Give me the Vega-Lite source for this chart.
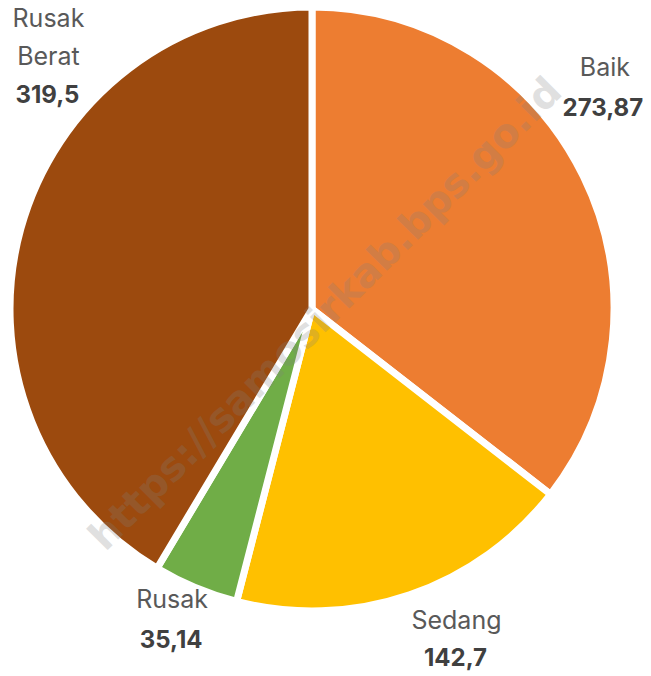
{
  "$schema": "https://vega.github.io/schema/vega-lite/v6.json",
  "width": 624,
  "height": 618,
  "autosize": {"type": "none"},
  "padding": {"left": 0, "top": 0, "right": 27, "bottom": 58},
  "background": "white",
  "config": {
    "view": {"stroke": null},
    "locale": {"number": {"decimal": ",", "thousands": ".", "grouping": [3], "currency": ["Rp", ""]}}
  },
  "data": {
    "values": [
      {"kondisi": "Baik", "panjang": 273.87, "urutan": 1},
      {"kondisi": "Sedang", "panjang": 142.7, "urutan": 2},
      {"kondisi": "Rusak", "panjang": 35.14, "urutan": 3},
      {"kondisi": "Rusak Berat", "panjang": 319.5, "urutan": 4}
    ]
  },
  "encoding": {
    "theta": {"field": "panjang", "type": "quantitative", "stack": true},
    "order": {"field": "urutan", "type": "quantitative", "sort": "ascending"}
  },
  "layer": [
    {
      "mark": {"type": "arc", "outerRadius": 302, "stroke": "white", "strokeWidth": 7},
      "encoding": {
        "color": {
          "field": "kondisi", "type": "nominal", "legend": null,
          "scale": {"domain": ["Baik", "Sedang", "Rusak", "Rusak Berat"], "range": ["#ED7D31", "#FFC000", "#70AD47", "#9C4A0E"]}
        }
      }
    },
    {
      "mark": {"type": "text", "radius": 0, "dx": 6, "dy": 14, "angle": 315, "text": "https://samosirkab.bps.go.id", "font": "DejaVu Sans", "fontWeight": "bold", "fontSize": 40, "fill": "#808080", "align": "center", "baseline": "middle"},
      "encoding": {"opacity": {"condition": {"test": "datum.kondisi === 'Baik'", "value": 0.24}, "value": 0}}
    },
    {
      "mark": {"type": "text", "radius": 345, "dx": -17, "dy": -89, "font": "Inter", "fontSize": 25, "fill": "#595959", "align": "center", "baseline": "middle"},
      "encoding": {"text": {"condition": {"test": "datum.kondisi === 'Baik'", "field": "kondisi", "type": "nominal"}, "value": ""}}
    },
    {
      "mark": {"type": "text", "radius": 345, "dx": 33, "dy": -14, "font": "Inter", "fontSize": 25, "fill": "#595959", "align": "center", "baseline": "middle"},
      "encoding": {"text": {"condition": {"test": "datum.kondisi === 'Sedang'", "field": "kondisi", "type": "nominal"}, "value": ""}}
    },
    {
      "mark": {"type": "text", "radius": 345, "dx": -7, "dy": -27, "font": "Inter", "fontSize": 25, "fill": "#595959", "align": "center", "baseline": "middle"},
      "encoding": {"text": {"condition": {"test": "datum.kondisi === 'Rusak'", "field": "kondisi", "type": "nominal"}, "value": ""}}
    },
    {
      "mark": {"type": "text", "radius": 345, "dx": 69, "dy": -198, "lineBreak": " ", "lineHeight": 38, "font": "Inter", "fontSize": 25, "fill": "#595959", "align": "center", "baseline": "middle"},
      "encoding": {"text": {"condition": {"test": "datum.kondisi === 'Rusak Berat'", "field": "kondisi", "type": "nominal"}, "value": ""}}
    },
    {
      "mark": {"type": "text", "radius": 345, "dx": -19, "dy": -48, "font": "Inter", "fontWeight": "bold", "fontSize": 24, "fill": "#404040", "align": "center", "baseline": "middle"},
      "encoding": {"text": {"condition": {"test": "datum.kondisi === 'Baik'", "field": "panjang", "type": "quantitative", "format": ".2~f"}, "value": ""}}
    },
    {
      "mark": {"type": "text", "radius": 345, "dx": 32, "dy": 24, "font": "Inter", "fontWeight": "bold", "fontSize": 24, "fill": "#404040", "align": "center", "baseline": "middle"},
      "encoding": {"text": {"condition": {"test": "datum.kondisi === 'Sedang'", "field": "panjang", "type": "quantitative", "format": ".2~f"}, "value": ""}}
    },
    {
      "mark": {"type": "text", "radius": 345, "dx": -8, "dy": 14, "font": "Inter", "fontWeight": "bold", "fontSize": 24, "fill": "#404040", "align": "center", "baseline": "middle"},
      "encoding": {"text": {"condition": {"test": "datum.kondisi === 'Rusak'", "field": "panjang", "type": "quantitative", "format": ".2~f"}, "value": ""}}
    },
    {
      "mark": {"type": "text", "radius": 345, "dx": 68, "dy": -121, "font": "Inter", "fontWeight": "bold", "fontSize": 24, "fill": "#404040", "align": "center", "baseline": "middle"},
      "encoding": {"text": {"condition": {"test": "datum.kondisi === 'Rusak Berat'", "field": "panjang", "type": "quantitative", "format": ".2~f"}, "value": ""}}
    }
  ]
}
